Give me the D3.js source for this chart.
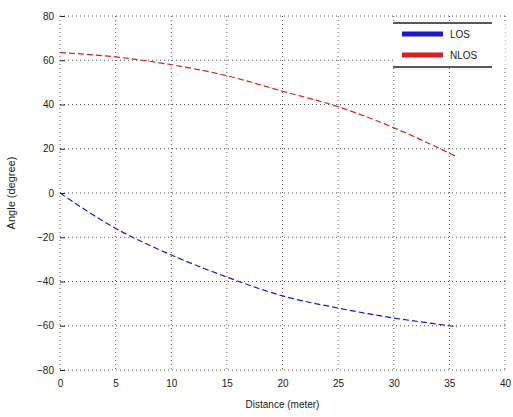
<!DOCTYPE html>
<meta charset="utf-8">
<style>
body { margin: 0; background: #fff; }
text { font: 10px "Liberation Sans", Arial, sans-serif; fill: #222; }
.grid line { stroke: #555; stroke-dasharray: 1,3; stroke-width: 1; }
</style>
<svg width="513" height="417"></svg>
<script src="https://d3js.org/d3.v7.min.js"></script>
<script>

// distance (meter) and angle values
var distance = [0, 5, 10, 15, 20, 25, 30, 35, 35.7];
var losAngle = [0, -16, -28, -38, -46.5, -52, -56.5, -60, -60.5];
var nlosAngle = [63.5, 61.5, 58, 53, 46, 39, 29.5, 18, 16.3];
var xTicks = [0, 5, 10, 15, 20, 25, 30, 35, 40];
var yTicks = [-80, -60, -40, -20, 0, 20, 40, 60, 80];
var seriesNames = ["LOS", "NLOS"];

var svg = d3.select("svg"),
    plotL = 60, plotR = 505, plotT = 16, plotB = 370;

var x = d3.scaleLinear().domain([0, 40]).range([plotL, plotR]),
    y = d3.scaleLinear().domain([-80, 80]).range([plotB, plotT]);

// dotted grid
var grid = svg.append("g").attr("class", "grid");
grid.selectAll(".v").data(xTicks).enter().append("line")
    .attr("x1", function(d) { return x(d); }).attr("x2", function(d) { return x(d); })
    .attr("y1", plotT).attr("y2", plotB);
grid.selectAll(".h").data(yTicks).enter().append("line")
    .attr("x1", plotL).attr("x2", plotR)
    .attr("y1", function(d) { return y(d); }).attr("y2", function(d) { return y(d); });

var xAxis = svg.append("g")
    .attr("transform", "translate(0," + plotB + ")")
    .call(d3.axisBottom(x).tickValues(xTicks).tickSize(0).tickPadding(10));
var yAxis = svg.append("g")
    .attr("transform", "translate(" + plotL + ",0)")
    .call(d3.axisLeft(y).tickValues(yTicks).tickSize(-5).tickPadding(6));
xAxis.select(".domain").remove();
yAxis.select(".domain").remove();
yAxis.selectAll(".tick line").attr("stroke", "#222");
svg.selectAll(".tick text").style("font-size", "10px").attr("fill", "#222");

var line = d3.line()
    .x(function(d) { return x(d[0]); })
    .y(function(d) { return y(d[1]); })
    .curve(d3.curveMonotoneX);

var series = [
  { name: seriesNames[0], color: "#1a1acc", values: d3.zip(distance, losAngle) },
  { name: seriesNames[1], color: "#d42020", values: d3.zip(distance, nlosAngle) }
];

svg.selectAll(".curve").data(series).enter().append("path")
    .attr("class", "curve")
    .attr("fill", "none")
    .attr("stroke", function(d) { return d.color; })
    .attr("stroke-width", 1.2)
    .attr("stroke-dasharray", "6,3")
    .attr("d", function(d) { return line(d.values); });

// legend
var lg = svg.append("g");
lg.append("rect").attr("x", 393).attr("y", 23).attr("width", 112).attr("height", 44)
    .attr("fill", "#fff");
lg.append("line").attr("x1", 393).attr("x2", 492).attr("y1", 23).attr("y2", 23).attr("stroke", "#222").attr("stroke-width", 1.5);
lg.append("line").attr("x1", 393).attr("x2", 492).attr("y1", 67).attr("y2", 67).attr("stroke", "#222").attr("stroke-width", 1.5);
var item = lg.selectAll(".item").data(series).enter().append("g")
    .attr("transform", function(d, i) { return "translate(402," + (34 + i * 21) + ")"; });
item.append("line").attr("x1", 0).attr("x2", 41)
    .attr("stroke", function(d) { return d.color; }).attr("stroke-width", 5);
item.append("text").attr("x", 48).attr("dy", "0.35em").text(function(d) { return d.name; });

svg.append("text").attr("x", (plotL + plotR) / 2).attr("y", 408)
    .attr("text-anchor", "middle").text("Distance (meter)");
svg.append("text").attr("transform", "translate(15," + (plotT + plotB) / 2 + ") rotate(-90)")
    .attr("text-anchor", "middle").style("font-size", "11px").text("Angle (degree)");

</script>
